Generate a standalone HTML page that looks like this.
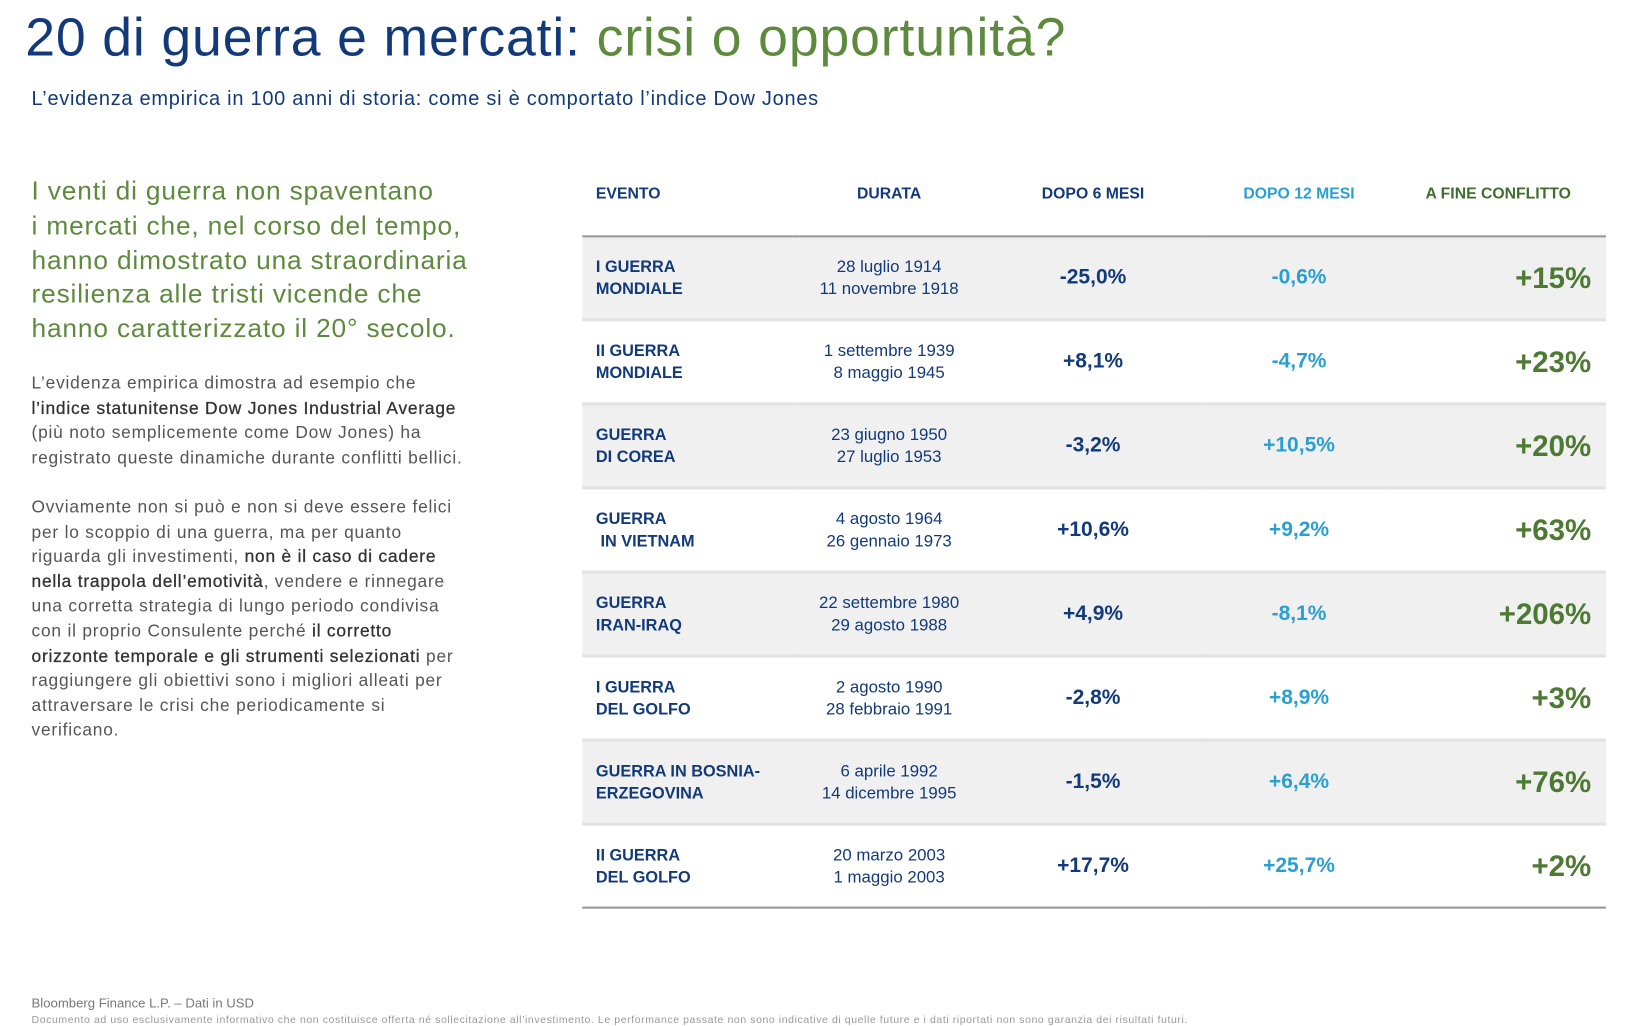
<!DOCTYPE html>
<html><head><meta charset="utf-8">
<style>
html,body{margin:0;padding:0;background:#fff;width:1648px;height:1024px;overflow:hidden}
#w{position:absolute;left:0;top:0;width:1568px;height:975px;transform:scale(1.051,1.0505);transform-origin:0 0;font-family:"Liberation Sans",sans-serif}
.a{position:absolute;white-space:nowrap}
h1{position:absolute;left:24px;top:6px;margin:0;font-weight:normal;font-size:51px;color:#123a7a;letter-spacing:0.8px}
h1 span{color:#5e8a3e}
.sub{left:30px;top:84px;font-size:19px;color:#123a7a;letter-spacing:0.7px}
.lh{left:30px;top:166px;font-size:25px;line-height:32.8px;color:#5e8a3e;letter-spacing:0.8px}
.bd{left:30px;font-size:16.5px;line-height:23.6px;color:#555;letter-spacing:0.75px}
.bd b{color:#333;font-weight:normal;-webkit-text-stroke:0.3px #333}
table{position:absolute;left:554px;top:160px;width:974px;border-collapse:collapse}
th{height:47px;font-size:15px;font-weight:bold;vertical-align:top;padding-top:16px;color:#123a7a}
td{height:77px;border-top:3px solid #e2e2e2;padding:0}
tr.g td{background:#f0f0f0}
tr.f td{border-top:2px solid #999}
tbody tr:last-child td{border-bottom:2px solid #999}
.e{font-size:15.5px;font-weight:bold;color:#123a7a;padding-left:13px;line-height:21px;text-align:left}
.d{font-size:16px;color:#123a7a;text-align:center;line-height:21px}
.s{font-size:20px;font-weight:bold;color:#123a7a;text-align:center}
.t{font-size:20px;font-weight:bold;color:#2a9fd3;text-align:center}
.c{font-size:28px;font-weight:bold;color:#4d7a33;text-align:right;padding-right:14px}
.fn{left:30px;top:948px;font-size:12.5px;color:#777}
.fn2{left:30px;top:966px;font-size:10px;color:#999;letter-spacing:0.55px}
</style></head><body><div id="w">
<h1>20 di guerra e mercati: <span>crisi o opportunità?</span></h1>
<div class="a sub">L’evidenza empirica in 100 anni di storia: come si è comportato l’indice Dow Jones</div>
<div class="a lh">I venti di guerra non spaventano<br>i mercati che, nel corso del tempo,<br>hanno dimostrato una straordinaria<br>resilienza alle tristi vicende che<br>hanno caratterizzato il 20° secolo.</div>
<div class="a bd" style="top:354px">L’evidenza empirica dimostra ad esempio che<br><b>l’indice statunitense Dow Jones Industrial Average</b><br>(più noto semplicemente come Dow Jones) ha<br>registrato queste dinamiche durante conflitti bellici.</div>
<div class="a bd" style="top:472px">Ovviamente non si può e non si deve essere felici<br>per lo scoppio di una guerra, ma per quanto<br>riguarda gli investimenti, <b>non è il caso di cadere</b><br><b>nella trappola dell’emotività</b>, vendere e rinnegare<br>una corretta strategia di lungo periodo condivisa<br>con il proprio Consulente perché <b>il corretto</b><br><b>orizzonte temporale e gli strumenti selezionati</b> per<br>raggiungere gli obiettivi sono i migliori alleati per<br>attraversare le crisi che periodicamente si<br>verificano.</div>
<table>
<thead><tr><th style="width:193px;text-align:left;padding-left:13px">EVENTO</th><th style="width:168px">DURATA</th><th style="width:216px">DOPO 6 MESI</th><th style="width:172px;color:#2a9fd3">DOPO 12 MESI</th><th style="color:#3f6e2c">A FINE CONFLITTO</th></tr></thead>
<tbody>
<tr class="g f"><td class="e">I GUERRA<br>MONDIALE</td><td class="d">28 luglio 1914<br>11 novembre 1918</td><td class="s">-25,0%</td><td class="t">-0,6%</td><td class="c">+15%</td></tr>
<tr><td class="e">II GUERRA<br>MONDIALE</td><td class="d">1 settembre 1939<br>8 maggio 1945</td><td class="s">+8,1%</td><td class="t">-4,7%</td><td class="c">+23%</td></tr>
<tr class="g"><td class="e">GUERRA<br>DI COREA</td><td class="d">23 giugno 1950<br>27 luglio 1953</td><td class="s">-3,2%</td><td class="t">+10,5%</td><td class="c">+20%</td></tr>
<tr><td class="e">GUERRA<br>&nbsp;IN VIETNAM</td><td class="d">4 agosto 1964<br>26 gennaio 1973</td><td class="s">+10,6%</td><td class="t">+9,2%</td><td class="c">+63%</td></tr>
<tr class="g"><td class="e">GUERRA<br>IRAN-IRAQ</td><td class="d">22 settembre 1980<br>29 agosto 1988</td><td class="s">+4,9%</td><td class="t">-8,1%</td><td class="c">+206%</td></tr>
<tr><td class="e">I GUERRA<br>DEL GOLFO</td><td class="d">2 agosto 1990<br>28 febbraio 1991</td><td class="s">-2,8%</td><td class="t">+8,9%</td><td class="c">+3%</td></tr>
<tr class="g"><td class="e">GUERRA IN BOSNIA-<br>ERZEGOVINA</td><td class="d">6 aprile 1992<br>14 dicembre 1995</td><td class="s">-1,5%</td><td class="t">+6,4%</td><td class="c">+76%</td></tr>
<tr><td class="e">II GUERRA<br>DEL GOLFO</td><td class="d">20 marzo 2003<br>1 maggio 2003</td><td class="s">+17,7%</td><td class="t">+25,7%</td><td class="c">+2%</td></tr>
</tbody></table>
<div class="a fn">Bloomberg Finance L.P. – Dati in USD</div>
<div class="a fn2">Documento ad uso esclusivamente informativo che non costituisce offerta né sollecitazione all’investimento. Le performance passate non sono indicative di quelle future e i dati riportati non sono garanzia dei risultati futuri.</div>
</div></body></html>
